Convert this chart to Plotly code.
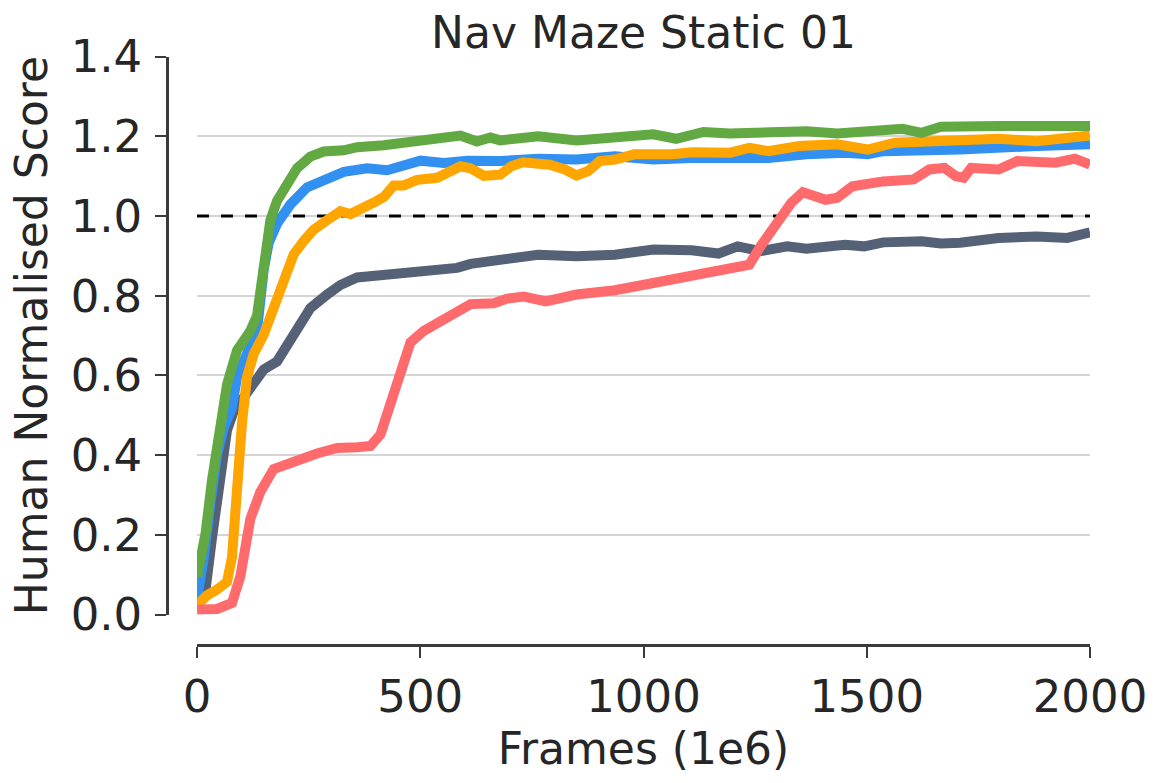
import plotly.graph_objects as go

# values (frames in millions, human normalised score)
slate_x = [0, 18.7, 33.6, 52.3, 67.2, 82.1, 104.5, 127, 149.4, 179.2, 201.6, 224, 253.9,
           291.3, 321.2, 358.6, 403.4, 455.7, 493, 530.4, 582.7, 612.6, 657.4, 679, 764,
           850, 936, 1022, 1108, 1168, 1211, 1262, 1322, 1365, 1451, 1494, 1537, 1623,
           1666, 1709, 1795, 1881, 1949, 2000]
slate_y = [0.03, 0.058, 0.192, 0.356, 0.462, 0.51, 0.548, 0.577, 0.615, 0.635, 0.673, 0.721,
           0.769, 0.803, 0.827, 0.846, 0.851, 0.861, 0.861, 0.870, 0.870, 0.880, 0.887, 0.895,
           0.903, 0.899, 0.903, 0.916, 0.914, 0.906, 0.924, 0.912, 0.924, 0.918, 0.928, 0.924,
           0.934, 0.937, 0.931, 0.933, 0.945, 0.949, 0.945, 0.959]

blue_x = [0, 15, 30, 45, 60, 78.4, 89.6, 112, 134.4, 149.4, 160.6, 179.2, 209.1, 246.4,
          283.8, 328.7, 381, 425.8, 500.5, 552.8, 605, 679, 764, 850, 936, 1022, 1108, 1194,
          1280, 1365, 1451, 1502, 1537, 1709, 1795, 1881, 2000]
blue_y = [0.04, 0.14, 0.28, 0.40, 0.47, 0.519, 0.596, 0.654, 0.712, 0.865, 0.933, 0.981,
          1.029, 1.072, 1.091, 1.111, 1.120, 1.115, 1.139, 1.133, 1.139, 1.138, 1.144, 1.142,
          1.150, 1.142, 1.146, 1.144, 1.146, 1.155, 1.159, 1.155, 1.163, 1.167, 1.169, 1.176,
          1.180]

orange_x = [0, 22.4, 44.8, 67.2, 78.4, 89.6, 100.8, 112, 127, 149.4, 171.8, 194.2, 216.6,
            239, 261.4, 291.3, 321.2, 343.6, 373.5, 395.9, 418.3, 440.7, 463.2, 493, 537.9,
            567.8, 590.2, 612.6, 642.5, 679, 704, 730, 790, 824, 850, 876, 902, 936, 979,
            1065, 1108, 1194, 1237, 1280, 1348, 1434, 1502, 1563, 1709, 1795, 1881, 2000]
orange_y = [0.024, 0.048, 0.0625, 0.082, 0.144, 0.337, 0.481, 0.596, 0.654, 0.702, 0.769,
            0.837, 0.904, 0.9375, 0.966, 0.99, 1.012, 1.005, 1.019, 1.034, 1.048, 1.077, 1.077,
            1.091, 1.096, 1.111, 1.125, 1.12, 1.101, 1.104, 1.125, 1.135, 1.129, 1.117, 1.102,
            1.113, 1.138, 1.142, 1.155, 1.155, 1.160, 1.159, 1.171, 1.163, 1.176, 1.180, 1.167,
            1.184, 1.188, 1.194, 1.188, 1.202]

green_x = [0, 7.5, 18.7, 33.6, 48.5, 67.2, 89.6, 119.5, 134.4, 149.4, 164.3, 179.2, 201.6,
           224, 253.9, 283.8, 328.7, 358.6, 418.3, 463.2, 493, 530, 568, 590, 627, 657, 679,
           764, 850, 936, 1022, 1073, 1134, 1194, 1365, 1434, 1537, 1580, 1623, 1666, 1795,
           1881, 2000]
green_y = [0.095, 0.135, 0.20, 0.337, 0.46, 0.577, 0.663, 0.712, 0.75, 0.865, 0.99, 1.038,
           1.082, 1.12, 1.149, 1.162, 1.165, 1.173, 1.178, 1.185, 1.188, 1.195, 1.198, 1.202,
           1.187, 1.197, 1.19, 1.20, 1.19, 1.196, 1.205, 1.194, 1.211, 1.207, 1.213, 1.207,
           1.213, 1.219, 1.209, 1.224, 1.226, 1.228, 1.226]

red_x = [0, 44.8, 78.4, 97.1, 119.5, 141.9, 171.8, 201.6, 231.5, 268.8, 313.7, 358.6, 388.5,
         410.9, 433.3, 455.7, 478.1, 508, 552.8, 590.2, 612.6, 664.9, 694.8, 732.1, 781, 850,
         936, 1022, 1065, 1125, 1194, 1237, 1262, 1297, 1331, 1357, 1408, 1434, 1468, 1537,
         1605, 1640, 1674, 1700, 1717, 1734, 1795, 1837, 1923, 1966, 2000]
red_y = [0.012, 0.014, 0.029, 0.096, 0.24, 0.308, 0.365, 0.38, 0.389, 0.404, 0.418, 0.42,
         0.423, 0.452, 0.529, 0.625, 0.683, 0.712, 0.74, 0.764, 0.779, 0.781, 0.793, 0.798,
         0.786, 0.803, 0.814, 0.832, 0.84, 0.857, 0.866, 0.878, 0.924, 0.983, 1.033, 1.06,
         1.041, 1.046, 1.075, 1.087, 1.092, 1.117, 1.121, 1.10, 1.096, 1.121, 1.117, 1.138,
         1.134, 1.144, 1.129]

human_level = 1.0
x_ticks = [0, 500, 1000, 1500, 2000]
y_ticks = [0.0, 0.2, 0.4, 0.6, 0.8, 1.0, 1.2, 1.4]

series = [
    (slate_x, slate_y, "#556177"),
    (blue_x, blue_y, "#3190f0"),
    (orange_x, orange_y, "#ffa500"),
    (green_x, green_y, "#62a843"),
    (red_x, red_y, "#ff6b6d"),
]

text_color = "#262626"
axis_color = "#3a3a3a"
font = "DejaVu Sans"

fig = go.Figure()

fig.add_trace(
    go.Scatter(
        x=[0, 2000],
        y=[human_level, human_level],
        mode="lines",
        line={"color": "black", "width": 3, "dash": "12px,12px"},
        showlegend=False,
        hoverinfo="skip",
    )
)

for xs, ys, color in series:
    fig.add_trace(
        go.Scatter(
            x=xs,
            y=ys,
            mode="lines",
            line={"color": color, "width": 10},
            showlegend=False,
        )
    )

fig.update_layout(
    width=1165,
    height=783,
    margin={"l": 0, "r": 0, "t": 0, "b": 0, "autoexpand": False},
    paper_bgcolor="white",
    plot_bgcolor="white",
    font={"family": font, "size": 44, "color": text_color},
    title={
        "text": "Nav Maze Static 01",
        "x": (197 + 1090) / 2 / 1165,
        "xanchor": "center",
        "y": 1 - 33 / 783,
        "yanchor": "middle",
        "font": {"size": 44, "color": text_color},
    },
    xaxis={
        "domain": [197 / 1165, 1090 / 1165],
        "range": [0, 2000],
        "anchor": "free",
        "position": (783 - 645) / 783,
        "automargin": False,
        "tickvals": x_ticks,
        "ticks": "outside",
        "ticklen": 11,
        "tickwidth": 2,
        "tickcolor": axis_color,
        "showline": True,
        "linecolor": axis_color,
        "linewidth": 2.5,
        "showgrid": False,
        "zeroline": False,
        "tickfont": {"size": 45},
        "title": {"text": "Frames (1e6)", "font": {"size": 44}, "standoff": 8},
    },
    yaxis={
        "domain": [(783 - 614.5) / 783, (783 - 56.7) / 783],
        "range": [0, 1.4],
        "anchor": "free",
        "position": 167 / 1165,
        "automargin": False,
        "tickvals": y_ticks,
        "tickformat": ".1f",
        "ticks": "outside",
        "ticklen": 11,
        "tickwidth": 2,
        "tickcolor": axis_color,
        "ticklabelstandoff": 4,
        "showline": True,
        "linecolor": axis_color,
        "linewidth": 2.5,
        "showgrid": True,
        "gridcolor": "#d5d5d5",
        "gridwidth": 2,
        "zeroline": False,
        "tickfont": {"size": 45},
        "title": {"text": "Human Normalised Score", "font": {"size": 44}, "standoff": 8},
    },
)

# the page body has a default 8px margin; drop it so the figure sits at the window corner
fig.write_html(
    "out.html",
    config={"displayModeBar": False},
    post_script="document.body.style.margin = '0px';",
)
